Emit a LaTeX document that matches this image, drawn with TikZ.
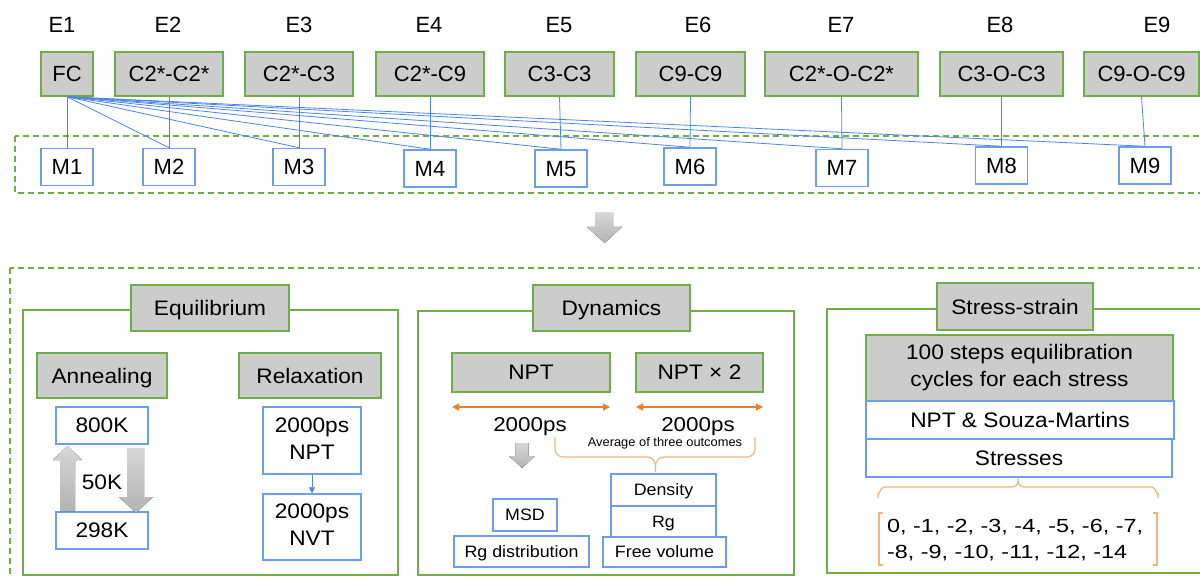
\documentclass[tikz,border=0pt]{standalone}
\usepackage{fontspec}
\setmainfont{Liberation Sans}
\usetikzlibrary{arrows.meta,calc}
\definecolor{gr}{RGB}{112,173,71}
\definecolor{bl}{RGB}{109,158,235}
\definecolor{fanblue}{RGB}{74,134,232}
\definecolor{boxgray}{RGB}{204,204,204}
\definecolor{orA}{RGB}{237,125,49}
\definecolor{orB}{RGB}{246,178,128}
\newcommand{\setfs}[1]{\fontsize{#1}{1.28\dimexpr#1pt\relax}\selectfont}
\newcommand{\hx}[2][1.08]{\scalebox{#1}[1]{#2}}
\newcommand{\two}[2]{\begin{tabular}{@{}c@{}}#1\\#2\end{tabular}}
\tikzset{
  elab/.style={font=\setfs{22}, inner sep=0pt},
  ebox/.style={draw=gr, fill=boxgray, line width=1.5pt, inner sep=0pt, minimum height=44pt, font=\setfs{22}, text depth=0pt},
  mbox/.style={draw=bl, fill=white, line width=1.5pt, inner sep=0pt, minimum width=52pt, minimum height=37pt, font=\setfs{22}, text depth=0pt},
  link/.style={draw=fanblue, line width=0.8pt},
  dashbox/.style={draw=gr, line width=1.5pt, dash pattern=on 6pt off 4pt},
  panel/.style={draw=gr, line width=1.5pt},
  ttl/.style={draw=gr, fill=boxgray, line width=1.5pt, inner sep=0pt, font=\setfs{21}, text depth=0pt},
  wbox/.style={draw=bl, fill=white, line width=1.5pt, inner sep=0pt, font=\setfs{21}, text depth=0pt},
  sbox/.style={draw=bl, fill=white, line width=1.5pt, inner sep=0pt, font=\setfs{16.5}, text depth=0pt},
  multi/.style={text depth=},
  garrow/.style={draw=none, top color=black!16, bottom color=black!30},
  oarrow/.style={draw=orA, line width=1.3pt, {Triangle[length=7pt,width=7pt]}-{Triangle[length=7pt,width=7pt]}},
  brace/.style={draw=orB, line width=1.2pt},
  barrow/.style={draw=fanblue, line width=0.9pt, -{Triangle[length=6pt,width=6pt]}},
}
\begin{document}
\begin{tikzpicture}[x=1pt,y=-1pt]
\useasboundingbox (0,0) rectangle (1200,577);
\fill[white] (0,0) rectangle (1200,577);

% ---------- top row ----------
\foreach \n/\x in {1/62,2/168,3/299,4/429,5/559,6/698,7/841,8/1000,9/1157}
  \node[elab] (el\n) at (\x,25) {E\n};

\node[ebox, minimum width=52pt]  (t1) at (67,74)     {FC};
\node[ebox, minimum width=108pt] (t2) at (169,74)    {C2*-C2*};
\node[ebox, minimum width=108pt] (t3) at (299,74)    {C2*-C3};
\node[ebox, minimum width=108pt] (t4) at (430,74)    {C2*-C9};
\node[ebox, minimum width=109pt] (t5) at (559.5,74)  {C3-C3};
\node[ebox, minimum width=109pt] (t6) at (690.5,74)  {C9-C9};
\node[ebox, minimum width=153pt] (t7) at (841.5,74)  {C2*-O-C2*};
\node[ebox, minimum width=123pt] (t8) at (1001.5,74) {C3-O-C3};
\node[ebox, minimum width=115pt] (t9) at (1141.5,74) {C9-O-C9};

\draw[dashbox] (15,136) rectangle (1215,193);

\node[mbox] (m1) at (67,167)     {M1};
\node[mbox] (m2) at (169,167)    {M2};
\node[mbox] (m3) at (299,167)    {M3};
\node[mbox] (m4) at (430,168.5)  {M4};
\node[mbox] (m5) at (561,168.5)  {M5};
\node[mbox] (m6) at (690,166.5)  {M6};
\node[mbox] (m7) at (842,168)    {M7};
\node[mbox] (m8) at (1001.5,165.5) {M8};
\node[mbox] (m9) at (1145,165.5) {M9};

\foreach \i in {1,...,9} \draw[link] (t\i.south) -- (m\i.north);
\foreach \i in {2,...,9} \draw[link] (t1.south) -- (m\i.north);

% big arrow
\fill[garrow] (595,213) -- (613,213) -- (613,227) -- (622,227) -- (604.5,243) -- (587,227) -- (595,227) -- cycle;

\draw[dashbox] (10,268) rectangle (1215,590);

% ---------- Equilibrium ----------
\draw[panel] (23,310) rectangle (398,575);
\node[ttl, minimum width=158pt, minimum height=46pt] (eq) at (210,308) {\hx{Equilibrium}};
\node[ttl, minimum width=130pt, minimum height=45pt] (ann) at (102,375.5) {\hx{Annealing}};
\node[ttl, minimum width=142pt, minimum height=45pt] (rel) at (310,375.5) {\hx{Relaxation}};
\node[wbox, minimum width=92pt, minimum height=37pt] (k800) at (102,425.5) {\hx{800K}};
\node[wbox, minimum width=92pt, minimum height=37pt] (k298) at (102,530.5) {\hx{298K}};
\fill[garrow] (60,511) -- (60,460) -- (53,460) -- (67.5,446) -- (82,460) -- (75,460) -- (75,511) -- cycle;
\fill[garrow] (127,448) -- (144,448) -- (144,497) -- (153,497) -- (136,513) -- (119,497) -- (127,497) -- cycle;
\node[font=\setfs{21}, inner sep=0pt, text depth=0pt] (k50) at (102,482) {\hx{50K}};
\node[wbox, multi, minimum width=98pt, minimum height=67pt] (rnpt) at (312,440.5) {\hx{\two{2000ps}{NPT}}};
\node[wbox, multi, minimum width=98pt, minimum height=66pt] (rnvt) at (312,527) {\hx{\two{2000ps}{NVT}}};
\draw[barrow] (rnpt.south) -- (rnvt.north);

% ---------- Dynamics ----------
\draw[panel] (418,311) rectangle (794,575);
\node[ttl, minimum width=157pt, minimum height=46pt] (dyn) at (611.5,308) {\hx{Dynamics}};
\node[ttl, minimum width=158pt, minimum height=39pt] (dnpt) at (531,372.5) {\hx{NPT}};
\node[ttl, minimum width=127pt, minimum height=39pt] (dnpt2) at (699.5,372.5) {\hx{NPT × 2}};
\coordinate (a1l) at (452,407); \coordinate (a1r) at (610,407);
\coordinate (a2l) at (636,407); \coordinate (a2r) at (763,407);
\draw[oarrow] (a1l) -- (a1r);
\draw[oarrow] (a2l) -- (a2r);
\node[font=\setfs{20}, inner sep=0pt, text depth=0pt] (ps1) at (530,425) {\hx[1.12]{2000ps}};
\node[font=\setfs{20}, inner sep=0pt, text depth=0pt] (ps2) at (698,425) {\hx[1.12]{2000ps}};
\node[font=\setfs{12.5}, inner sep=0pt] (avg) at (665,443) {\hx[1.03]{Average of three outcomes}};
\draw[brace] (555,437) -- (555,449) to[out=-90,in=180] (563,457) -- (647,457) to[out=0,in=90] (655.5,466) -- (655.5,472);
\draw[brace] (755,437) -- (755,449) to[out=-90,in=0] (747,457) -- (664,457) to[out=180,in=90] (655.5,466);
\fill[garrow] (515.5,443) -- (528.5,443) -- (528.5,456) -- (535,456) -- (522,468) -- (509,456) -- (515.5,456) -- cycle;
\node[sbox, minimum width=64pt, minimum height=32pt] (msd) at (525,515) {\hx{MSD}};
\node[sbox, minimum width=135pt, minimum height=31pt] (rgd) at (521.5,551.5) {\hx{Rg distribution}};
\node[sbox, minimum width=105pt, minimum height=32pt] (dens) at (663.5,490) {\hx{Density}};
\node[sbox, minimum width=105pt, minimum height=31pt] (rg) at (663.5,521.5) {\hx{Rg}};
\node[sbox, minimum width=123pt, minimum height=30pt] (fv) at (664.5,552) {\hx{Free volume}};

% ---------- Stress-strain ----------
\draw[panel] (827,309) rectangle (1215,573);
\node[ttl, minimum width=156pt, minimum height=47pt] (ss) at (1015,306.5) {\hx{Stress-strain}};
\node[ttl, multi, minimum width=307pt, minimum height=66pt] (cyc) at (1019.5,368) {\hx{\two{100 steps equilibration}{cycles for each stress}}};
\node[wbox, minimum width=308pt, minimum height=38pt] (sm) at (1020,420) {\hx{NPT \& Souza-Martins}};
\node[wbox, minimum width=306pt, minimum height=38pt] (str) at (1019,458) {\hx{Stresses}};
\draw[brace] (878,498) -- (878,494) to[out=-90,in=180] (884,487) -- (1012,487) to[out=0,in=-90] (1018,481) -- (1018,478);
\draw[brace] (1158,498) -- (1158,494) to[out=-90,in=0] (1152,487) -- (1024,487) to[out=180,in=-90] (1018,481);
\node[font=\fontsize{19}{26}\selectfont, inner sep=0pt, anchor=west] (nums) at (887,540)
  {\hx[1.23]{\begin{tabular}{@{}l@{}}0, -1, -2, -3, -4, -5, -6, -7,\\-8, -9, -10, -11, -12, -14\end{tabular}}};
\draw[brace] (883,513) -- (879,513) -- (879,565) -- (883,565);
\draw[brace] (1153,513) -- (1157,513) -- (1157,565) -- (1153,565);
\end{tikzpicture}
\end{document}
